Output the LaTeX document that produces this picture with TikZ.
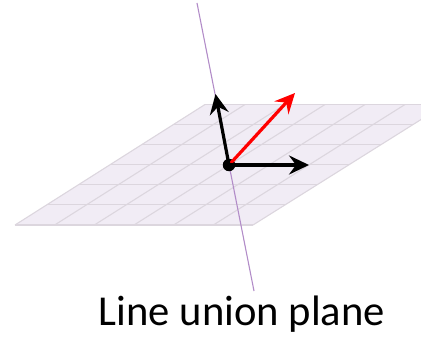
\documentclass[tikz,border=0pt]{standalone}
\usepackage{fontspec}
\setmainfont{Carlito}
\usepackage{xcolor}
\usepackage{tikz}
\usetikzlibrary{positioning,arrows.meta,calc}

\definecolor{planefill}{RGB}{241,236,245}
\definecolor{planegrid}{RGB}{220,214,222}
\definecolor{linepurple}{RGB}{178,140,200}

\begin{document}
\begin{tikzpicture}[
  x=1pt, y=-1pt,
  gridline/.style={draw=planegrid, line width=1.1pt},
  vector/.style={-{Stealth[length=20pt, width=19pt, inset=7pt]}, line width=3.2pt},
  dot/.style={circle, fill=black, inner sep=0pt, minimum size=12.5pt},
  caption/.style={font=\fontsize{42.6}{44}\selectfont, anchor=base, inner sep=0pt}
]
  \useasboundingbox (0,0) rectangle (421,337);
  \begin{scope}
    \clip (0,0) rectangle (421,337);
    % plane
    \fill[planefill] (15,225) -- (253,225) -- (445,104.5) -- (205,104.5) -- cycle;
    \foreach \i in {0,...,6} {
      \draw[gridline] ({15+\i*39.67},225) -- ({205+\i*40},104.5);
      \draw[gridline] ({15+\i*31.67},{225-\i*20.08}) -- ({253+\i*32},{225-\i*20.08});
    }
  \end{scope}

  \coordinate (linetop) at (197,3);
  \coordinate (linebottom) at (254,291);
  \coordinate (normaltip) at (215.5,94);
  \coordinate (redtip) at (295,93);
  \coordinate (righttip) at (309,165);
  \draw[linepurple, line width=1.1pt] (linetop) -- (linebottom);

  \node[dot] (origin) at (229,165) {};
  \draw[vector, red] (origin.center) -- (redtip);
  \draw[vector] (origin.center) -- (normaltip);
  \draw[vector] (origin.center) -- (righttip);

  \node[caption] (label) at (242,325.5) {Line union plane};
\end{tikzpicture}
\end{document}
